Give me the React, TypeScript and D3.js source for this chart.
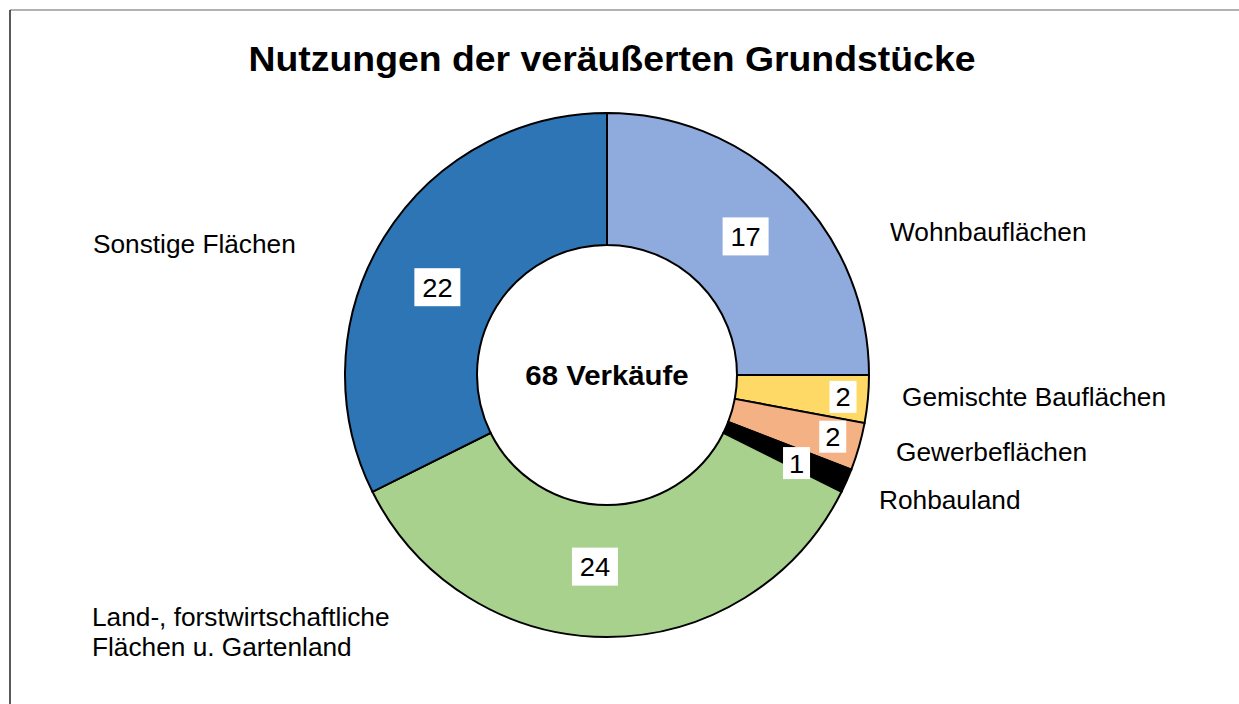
import React from "react";
import * as d3 from "d3";

const categories = [
  "Wohnbauflächen",
  "Gemischte Bauflächen",
  "Gewerbeflächen",
  "Rohbauland",
  "Land-, forstwirtschaftliche|Flächen u. Gartenland",
  "Sonstige Flächen",
];
const values = [17, 2, 2, 1, 24, 22];
const title = "Nutzungen der veräußerten Grundstücke";
const centerLabel = "68 Verkäufe";

// styles / layout (not data)
const colors = ["#8faadc", "#ffd966", "#f4b183", "#000000", "#a9d18e", "#2e75b6"];
const valueLabelRadius = [196, 237, 234, 209, 192, 191];
const valueLabelAngleShift = [0, 0, -0.6, 1.1, 3.6, -4.4];
const nameAnchor: [number, number][] = [
  [890, 241],
  [902, 406],
  [896, 461],
  [879, 509],
  [92, 626],
  [93, 253],
];

const W = 1239;
const H = 704;
const cx = 607;
const cy = 375;
const outerR = 262;
const innerR = 130;
const FS = 25;
const SX = 1.05;

export default function App() {
  const pie = d3.pie<number>().value((d) => d).sort(null);
  const arcs = pie(values);
  const arc = d3.arc<d3.PieArcDatum<number>>().innerRadius(innerR).outerRadius(outerR);
  const font = "'Liberation Sans', Arial, sans-serif";

  return (
    <svg
      width={W}
      height={H}
      style={{ position: "absolute", left: 0, top: 0, background: "#fff" }}
      fontFamily={font}
    >
      <rect x={0} y={0} width={W} height={H} fill="#fff" />
      <line x1={10} y1={10} x2={W} y2={10} stroke="#999" strokeWidth={1.5} />
      <line x1={10} y1={10} x2={10} y2={H} stroke="#222" strokeWidth={1.5} />
      <text
        transform={`translate(${612},${71}) scale(${SX},1)`}
        textAnchor="middle"
        fontWeight="bold"
        fontSize={35.6}
        fill="#000"
      >
        {title}
      </text>
      <g transform={`translate(${cx},${cy})`}>
        {arcs.map((a, i) => (
          <path key={i} d={arc(a) || ""} fill={colors[i]} stroke="#000" strokeWidth={2} />
        ))}
        {arcs.map((a, i) => {
          const mid = (a.startAngle + a.endAngle) / 2 + (valueLabelAngleShift[i] * Math.PI) / 180;
          const r = valueLabelRadius[i];
          const x = r * Math.sin(mid);
          const y = -r * Math.cos(mid);
          const txt = String(values[i]);
          const bw = txt.length === 1 ? 27 : 46;
          const bh = txt.length === 1 ? 32 : 38;
          return (
            <g key={"l" + i} transform={`translate(${x},${y})`}>
              <rect x={-bw / 2} y={-bh / 2} width={bw} height={bh} fill="#fff" />
              <text
                transform={`scale(${SX},1)`}
                textAnchor="middle"
                y={9.5}
                fontSize={26}
                fill="#000"
              >
                {txt}
              </text>
            </g>
          );
        })}
        <text
          transform={`translate(0,${10}) scale(${SX},1)`}
          textAnchor="middle"
          fontWeight="bold"
          fontSize={28}
          fill="#000"
        >
          {centerLabel}
        </text>
      </g>
      {categories.map((c, i) => {
        const lines = c.split("|");
        const [x, y] = nameAnchor[i];
        return (
          <text key={"n" + i} transform={`translate(${x},${y}) scale(${SX},1)`} fontSize={FS} fill="#000">
            {lines.map((l, j) => (
              <tspan key={j} x={0} dy={j === 0 ? 0 : 30}>
                {l}
              </tspan>
            ))}
          </text>
        );
      })}
    </svg>
  );
}
